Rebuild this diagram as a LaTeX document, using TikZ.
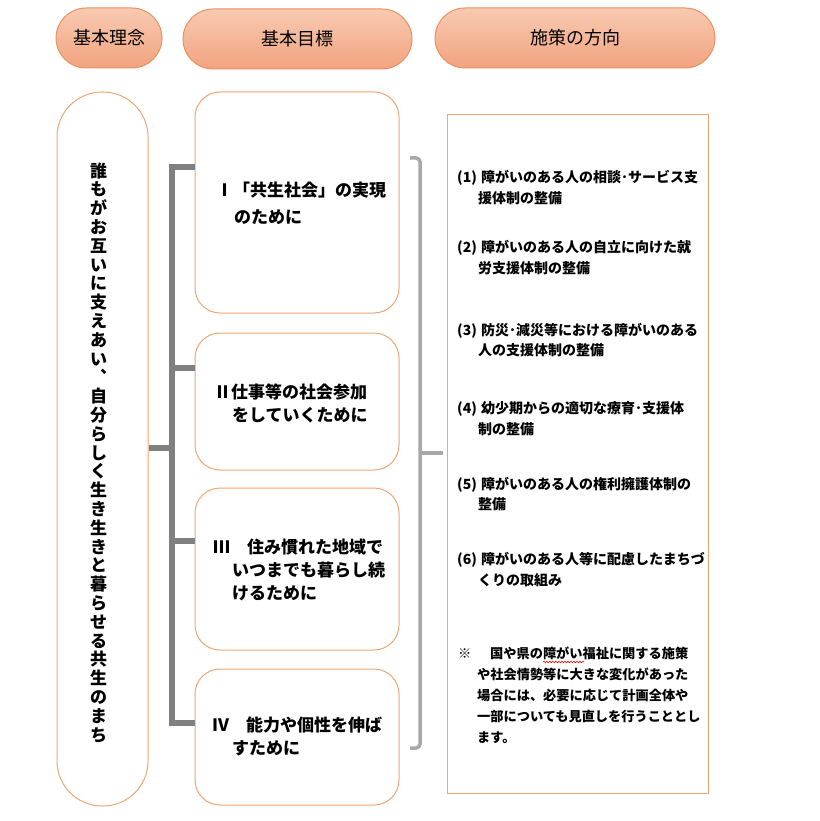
\documentclass[tikz,border=0pt]{standalone}
\usepackage{fontspec}
\newfontfamily\jp{Noto Sans CJK JP}
\usetikzlibrary{decorations.pathmorphing}
\definecolor{pillTop}{RGB}{248,202,178}
\definecolor{pillBot}{RGB}{242,163,126}
\definecolor{pillLine}{RGB}{232,145,95}
\definecolor{boxLine}{RGB}{240,165,115}
\definecolor{darkConn}{RGB}{128,128,128}
\definecolor{lightConn}{RGB}{168,168,168}
\begin{document}
\begin{tikzpicture}[x=1pt,y=-1pt,
  header/.style={draw=pillLine, line width=1pt, top color=pillTop, bottom color=pillBot,
    rounded corners=30pt, minimum height=60pt, inner sep=0pt,
    font=\jp\fontsize{18}{20}\selectfont},
  outline/.style={draw=boxLine, line width=1pt, fill=white, inner sep=0pt},
  goalbox/.style={outline, rounded corners=25pt, minimum width=204pt},
  goaltext/.style={anchor=west, align=left, inner sep=0pt,
    font=\jp\bfseries\fontsize{17}{23}\selectfont},
  vtext/.style={align=center, inner sep=0pt,
    font=\jp\bfseries\fontsize{17}{18.8}\selectfont},
  poltext/.style={anchor=west, align=left, inner sep=0pt,
    font=\jp\bfseries\fontsize{14}{20.5}\selectfont},
  darkline/.style={draw=darkConn, line width=6pt},
  bracket/.style={draw=lightConn, line width=3.5pt, rounded corners=4pt}
]
\useasboundingbox (0,0) rectangle (819,821);

% headers
\node[header, minimum width=106pt] (h1) at (109,38) {基本理念};
\node[header, minimum width=229pt] (h2) at (297.5,39) {基本目標};
\node[header, minimum width=280pt] (h3) at (575,38) {施策の方向};

% basic philosophy
\node[outline, minimum width=91pt, minimum height=714pt, rounded corners=45pt] (base) at (102.5,449) {};
\node[vtext] (vt) at (98.5,452.5) {誰\\も\\が\\お\\互\\い\\に\\支\\え\\あ\\い\\︑\\自\\分\\ら\\し\\く\\生\\き\\生\\き\\と\\暮\\ら\\せ\\る\\共\\生\\の\\ま\\ち};

% goal boxes
\node[goalbox, minimum height=221pt] (g1) at (297,202.5) {};
\node[goalbox, minimum height=137pt] (g2) at (297,401.5) {};
\node[goalbox, minimum height=162pt] (g3) at (297,569) {};
\node[goalbox, minimum height=136pt] (g4) at (297,737) {};

\node[goaltext, font=\jp\bfseries\fontsize{17}{26.7}\selectfont] (t1) at (216,203.5)
  {Ⅰ「共生社会」の実現\\\hspace*{18pt}のために};
\node[goaltext] (t2) at (214,403.5) {Ⅱ仕事等の社会参加\\\hspace*{18pt}をしていくために};
\node[goaltext] (t3) at (213,570) {Ⅲ　住み慣れた地域で\\\hspace*{19pt}いつまでも暮らし続\\\hspace*{19pt}けるために};
\node[goaltext] (t4) at (212,736.5) {Ⅳ　能力や個性を伸ば\\\hspace*{20pt}すために};

% dark connectors
\coordinate (bt) at (172,167);
\coordinate (bb) at (172,723);
\coordinate (bm) at (172,448);
\draw[darkline] (g1.west |- bt) -- (bt) -- (bb) -- (g4.west |- bb);
\draw[darkline] (base.east |- bm) -- (bm);
\draw[darkline] (bt |- 0,368) -- (g2.west |- 0,368);
\draw[darkline] (bt |- 0,541) -- (g3.west |- 0,541);

% policy box
\node[outline, minimum width=261pt, minimum height=678pt] (pol) at (577.5,454) {};

% bracket
\coordinate (kt) at (410,158);
\coordinate (kb) at (410,748);
\coordinate (km) at (420,453);
\coordinate (kend) at (443,453);
\draw[bracket] (kt) -- (420,158) -- (420,748) -- (kb);
\draw[draw=lightConn, line width=3.5pt] (km) -- (kend);

% policies
\node[poltext] (p1) at (457,187.5) {\makebox[24pt][l]{(1)}障がいのある人の相談･サービス支\\\hspace*{21pt}援体制の整備};
\node[poltext] (p2) at (457,257.5) {\makebox[24pt][l]{(2)}障がいのある人の自立に向けた就\\\hspace*{21pt}労支援体制の整備};
\node[poltext] (p3) at (457,340) {\makebox[24pt][l]{(3)}防災･減災等における障がいのある\\\hspace*{21pt}人の支援体制の整備};
\node[poltext] (p4) at (457,418.5) {\makebox[24pt][l]{(4)}幼少期からの適切な療育･支援体\\\hspace*{21pt}制の整備};
\node[poltext] (p5) at (457,494) {\makebox[24pt][l]{(5)}障がいのある人の権利擁護体制の\\\hspace*{21pt}整備};
\node[poltext] (p6) at (457,569.5) {\makebox[24pt][l]{(6)}障がいのある人等に配慮したまちづ\\\hspace*{21pt}くりの取組み};
\node[poltext, font=\jp\bfseries\fontsize{13.2}{21}\selectfont] (note) at (458,695) {\makebox[32pt][l]{※}国や県の障がい福祉に関する施策\\\hspace*{19pt}や社会情勢等に大きな変化があった\\\hspace*{19pt}場合には、必要に応じて計画全体や\\\hspace*{19pt}一部についても見直しを行うこととし\\\hspace*{19pt}ます。};

% spell-check underline
\draw[red, line width=0.6pt, decorate, decoration={snake, amplitude=0.8pt, segment length=3pt}]
  (543,662) -- (584,662);
\end{tikzpicture}
\end{document}
